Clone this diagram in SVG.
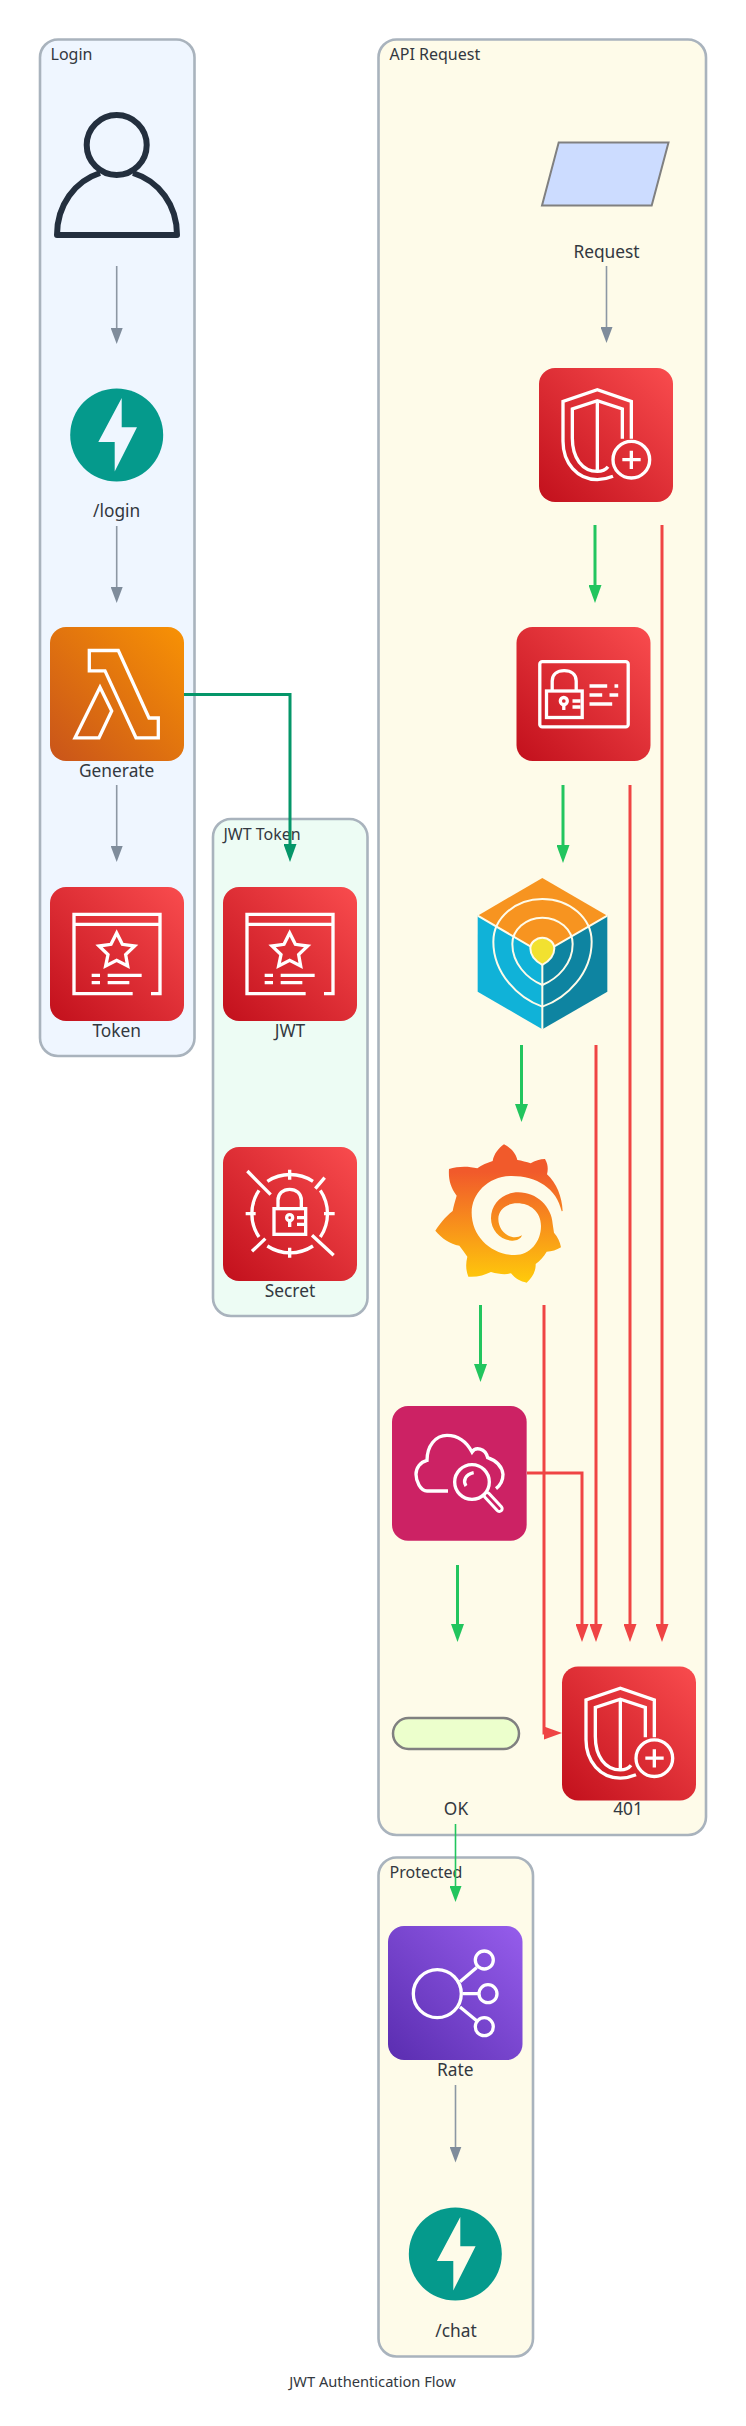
<svg xmlns="http://www.w3.org/2000/svg" width="746" height="2426" viewBox="0 0 746 2426">
<style>
text{font-family:"Noto Sans","Open Sans","Liberation Sans",sans-serif;font-size:16px;fill:#333840}
.lab{text-anchor:middle;font-size:17.33px}
.ttl{font-size:14.67px;text-anchor:middle}
.cl{stroke:#a9b3bd;stroke-width:2.6}
.ic{fill:none;stroke:#fff;stroke-width:3.3}
.ix{fill:none;stroke:#fff;stroke-width:10}
.tile{stroke:none}
.g{fill:none;stroke:#8c97a3;stroke-width:1.6;marker-end:url(#mG)}
.v{fill:none;stroke:#22c55e;stroke-width:3;marker-end:url(#mV)}
.r{fill:none;stroke:#ef4444;stroke-width:3;marker-end:url(#mR)}
.t{fill:none;stroke:#059669;stroke-width:3;marker-end:url(#mT)}
.o{fill:none;stroke:#22c55e;stroke-width:1.6;marker-end:url(#mV2)}
</style>
<defs>
<linearGradient id="gRed" x1="0" y1="1" x2="1" y2="0"><stop offset="0" stop-color="#c2101c"/><stop offset="1" stop-color="#f94c4e"/></linearGradient>
<linearGradient id="gOr" x1="0" y1="1" x2="1" y2="0"><stop offset="0" stop-color="#c9541a"/><stop offset="1" stop-color="#f89204"/></linearGradient>
<linearGradient id="gPu" x1="0" y1="1" x2="1" y2="0"><stop offset="0" stop-color="#5a2db0"/><stop offset="1" stop-color="#965dec"/></linearGradient>
<linearGradient id="gGr" x1="0" y1="0" x2="0" y2="1"><stop offset=".2" stop-color="#f15a2b"/><stop offset="1" stop-color="#ffcb0a"/></linearGradient>
<marker id="mG" markerUnits="userSpaceOnUse" viewBox="0 0 16 12" refX="8" refY="6" markerWidth="16" markerHeight="12" orient="auto"><path d="M0,0L16,6L0,12z" fill="#7f8c9b"/></marker>
<marker id="mV" markerUnits="userSpaceOnUse" viewBox="0 0 18 13" refX="8" refY="6.5" markerWidth="18" markerHeight="13" orient="auto"><path d="M0,0L18,6.5L0,13z" fill="#22c55e"/></marker>
<marker id="mV2" markerUnits="userSpaceOnUse" viewBox="0 0 16 12" refX="8" refY="6" markerWidth="16" markerHeight="12" orient="auto"><path d="M0,0L16,6L0,12z" fill="#22c55e"/></marker>
<marker id="mR" markerUnits="userSpaceOnUse" viewBox="0 0 18 13" refX="8" refY="6.5" markerWidth="18" markerHeight="13" orient="auto"><path d="M0,0L18,6.5L0,13z" fill="#ef4444"/></marker>
<marker id="mT" markerUnits="userSpaceOnUse" viewBox="0 0 18 13" refX="8" refY="6.5" markerWidth="18" markerHeight="13" orient="auto"><path d="M0,0L18,6.5L0,13z" fill="#059669"/></marker>
<g id="iStar">
<rect class="tile" width="134" height="134" rx="16" fill="url(#gRed)"/>
<g transform="scale(.33333)">
<path class="ix" d="M248,320H72V82H330V320H303M72,112H330M125,265H150M125,287H150M173,265H275M173,287H238"/>
<path class="ix" d="M200,138L217,172L254,177L227,203L233,237L200,220L167,237L174,203L147,177L183,172Z"/>
</g>
</g>
<g id="iShield">
<rect class="tile" width="134" height="134" rx="16" fill="url(#gRed)"/>
<g transform="scale(.33333)">
<path class="ix" d="M222,325C205,332 190,335 175,335C115,335 72,285 72,220V100L175,65L277,100V212"/>
<path class="ix" d="M207,296C198,308 188,310 175,310C130,310 100,270 100,210V123L175,98L250,123V212M175,98V310"/>
<circle class="ix" cx="277" cy="275" r="55"/>
<path class="ix" d="M250,275H305M277,248V303"/>
</g>
</g>
<circle id="iBolt" r="46.500" fill="#059a8c"/>
<path id="pBolt" d="M5,-37L-18.400,7H-2V36.400L20.300,-7.700H5Z"/>
</defs>

<g id="cluster-login"><rect class="cl" x="40" y="39.500" width="154.500" height="1016.500" rx="18" fill="#eff6ff"/><text x="50.500" y="59.500">Login</text></g>
<g id="cluster-jwt"><rect class="cl" x="213" y="819" width="154.500" height="497" rx="18" fill="#edfcf4"/><text x="223.500" y="840">JWT Token</text></g>
<g id="cluster-api"><rect class="cl" x="378.500" y="39.500" width="327.500" height="1795.500" rx="18" fill="#fefbe9"/><text x="389.500" y="59.500">API Request</text></g>
<g id="cluster-protected"><rect class="cl" x="378.500" y="1857.500" width="154.500" height="499" rx="18" fill="#fefbe9"/><text x="389.500" y="1878">Protected</text></g>

<g id="node-user">
<path d="M100,173C75,181 57,205 57,235H177C177,205 159,181 133,173" fill="none" stroke="#232f3e" stroke-width="6" stroke-linejoin="round"/>
<circle cx="116.700" cy="145" r="30" fill="none" stroke="#232f3e" stroke-width="6"/>
</g>
<g id="node-login"><use href="#iBolt" x="116.700" y="435"/><use href="#pBolt" x="116.700" y="435" fill="#eff6ff"/><text class="lab" x="116.700" y="517">/login</text></g>
<g id="node-generate" transform="translate(50 627)">
<rect class="tile" width="134" height="134" rx="16" fill="url(#gOr)"/>
<path class="ic" d="M39.300,23.500H68.300L99,91H108.300V110.800H86L55,43.800H39.300Z"/>
<path class="ic" d="M50,60.300L61.700,83.900L49,110.800H25Z"/>
<text class="lab" x="66.700" y="150">Generate</text>
</g>
<g id="node-token" transform="translate(50 887)"><use href="#iStar"/><text class="lab" x="66.700" y="150">Token</text></g>
<g id="node-jwt" transform="translate(223 887)"><use href="#iStar"/><text class="lab" x="67" y="150">JWT</text></g>
<g id="node-secret" transform="translate(223 1147)">
<rect class="tile" width="134" height="134" rx="16" fill="url(#gRed)"/>
<g transform="scale(.33333)">
<path class="ix" d="M133,103A125,125 0 0 1 270,103M292,130A125,125 0 0 1 292,270M270,297A125,125 0 0 1 133,297M108,270A125,125 0 0 1 108,130"/>
<path class="ix" d="M200,68V98M200,302V332M68,200H98M303,200H335M73,72L143,143M332,325L267,265M305,92L277,125M87,313L127,275"/>
<rect class="ix" x="153" y="185" width="95" height="77"/>
<path class="ix" d="M165,185V160C165,140 180,127 200,127C220,127 235,140 235,160V185"/>
<circle class="ix" cx="200" cy="212" r="9" stroke-width="8"/>
<path class="ix" d="M200,221V240M222,212H248M222,232H248" stroke-width="8"/>
</g>
<text class="lab" x="67" y="150">Secret</text>
</g>

<g id="node-request"><path d="M558.700,142.500H668.500L651.700,205.500H542Z" fill="#ccdcff" stroke="#808080" stroke-width="2"/><text class="lab" x="606.500" y="257.500">Request</text></g>
<g id="node-waf" transform="translate(539 368)"><use href="#iShield"/></g>
<g id="node-auth" transform="translate(516.500 627)">
<rect class="tile" width="134" height="134" rx="16" fill="url(#gRed)"/>
<rect class="ic" x="23.300" y="34.600" width="88.400" height="65.300" rx="2.500"/>
<rect class="ic" x="30" y="64" width="35.700" height="26.500"/>
<path class="ic" d="M35.700,64V54C35.700,47 41,43.600 47.700,43.600C54.400,43.600 59.700,47 59.700,54V64"/>
<circle class="ic" cx="47.300" cy="74" r="3.500" stroke-width="2.600"/>
<path class="ic" d="M47.300,77.500V83M56,74H64M56,80H64M73,59H90.700M98,59H101.700M73,68H85.700M93,68H101.700M73,77H95.700"/>
</g>
<g id="node-cube" transform="translate(470 870) scale(.33333)">
<path d="M217,24L412,137L217,250L23,137Z" fill="#f79420"/>
<path d="M23,137L217,250V478L23,365Z" fill="#10b2d8"/>
<path d="M412,137L217,250V478L412,365Z" fill="#0e84a1"/>
<g fill="none" stroke="#fefbe9" stroke-width="6">
<path d="M23,137L217,250L412,137M217,250V478"/>
<path d="M217,87C300,87 365,145 365,215C365,310 290,385 217,410C145,385 70,310 70,215C70,145 135,87 217,87Z"/>
<path d="M217,143C268,143 308,180 308,222C308,280 265,325 217,345C170,325 127,280 127,222C127,180 167,143 217,143Z"/>
</g>
<path d="M217,203C235,203 253,218 253,235C253,258 235,275 217,285C199,275 181,258 181,235C181,218 199,203 217,203Z" fill="#f2e130" stroke="#fefbe9" stroke-width="6"/>
</g>
<g id="node-grafana" transform="translate(430 1140) scale(.33333)">
<path fill="url(#gGr)" d="M222,13C240,22 258,38 262,60C275,62 290,66 302,70C315,62 330,57 345,57C354,72 355,88 351,103C380,130 396,170 398,213L395,214C380,145 320,108 245,108C175,108 125,160 125,218C125,290 185,345 255,345C300,345 333,305 333,258C333,215 300,190 262,190C228,190 205,210 205,237C205,268 230,292 255,292C262,292 270,290 276,286C272,298 258,303 245,302C210,300 183,270 183,235C183,190 220,157 265,157C320,157 365,200 368,252L372,278C383,290 390,305 393,322C380,330 365,335 350,335C342,350 330,362 317,372C318,395 305,415 290,428C272,425 255,415 243,400C225,405 205,402 183,396C165,405 140,412 115,410C107,390 107,370 112,350C105,340 95,325 88,317C60,312 35,295 16,272C30,250 45,232 68,213C70,200 75,185 80,167C60,140 55,115 57,87C85,78 115,78 142,85C155,75 172,68 188,63C192,42 205,25 222,13Z"/>
</g>
<g id="node-search" transform="translate(392 1406) scale(.33333)">
<rect class="tile" width="404" height="404" rx="48" fill="#cc2264"/>
<path class="ix" d="M168,255H105C85,255 72,225 72,205C72,185 85,168 105,163C105,120 130,88 165,88C200,88 225,110 240,138C250,122 280,125 287,155C315,165 330,180 333,205C333,225 325,238 312,248"/>
<path d="M285,268L322,308" stroke="#fff" stroke-width="26" stroke-linecap="round"/>
<path d="M285,268L322,308" stroke="#cc2264" stroke-width="8" stroke-linecap="round"/>
<circle cx="240" cy="228" r="52" fill="#cc2264" stroke="#fff" stroke-width="10"/>
<path class="ix" d="M222,240C212,225 220,205 245,200"/>
</g>
<g id="node-ok"><rect x="393" y="1718" width="126" height="31" rx="15.500" fill="#ecffcc" stroke="#808080" stroke-width="2.500"/><text class="lab" x="456" y="1815">OK</text></g>
<g id="node-401" transform="translate(562 1666.500)"><use href="#iShield"/><text class="lab" x="66" y="148.500">401</text></g>
<g id="node-rate" transform="translate(388 1926)">
<rect class="tile" width="134.500" height="134" rx="16" fill="url(#gPu)"/>
<circle class="ic" cx="49.300" cy="67.700" r="24"/>
<circle class="ic" cx="96.300" cy="34" r="9"/>
<circle class="ic" cx="100" cy="67.700" r="9"/>
<circle class="ic" cx="96.300" cy="100.700" r="9"/>
<path class="ic" d="M72,55.700L88.700,41.500M74.700,67.700H90M72,80.900L88.700,94.700"/>
<text class="lab" x="67.300" y="150">Rate</text>
</g>
<g id="node-chat"><use href="#iBolt" x="455.300" y="2254"/><use href="#pBolt" x="455.300" y="2254" fill="#fefbe9"/><text class="lab" x="456" y="2337">/chat</text></g>

<g id="connectors">
<path class="g" d="M116.700,266V336"/>
<path class="g" d="M116.700,526V595"/>
<path class="g" d="M116.700,785V854"/>
<path class="t" d="M184,694.500H290V852"/>
<path class="g" d="M606.500,266V335"/>
<path class="v" d="M595,525V593"/>
<path class="v" d="M563,785V853"/>
<path class="v" d="M521.500,1045V1112"/>
<path class="v" d="M480.500,1305V1372"/>
<path class="v" d="M457.500,1565V1632"/>
<path class="o" d="M455.500,1824V1894"/>
<path class="g" d="M455.500,2085V2154.500"/>
<path class="r" d="M662,525V1632"/>
<path class="r" d="M630,785V1632"/>
<path class="r" d="M596,1045V1632"/>
<path class="r" d="M544,1305V1733H552"/>
<path class="r" d="M527,1473H582V1632"/>
</g>
<g id="title"><text class="ttl" x="372.500" y="2387">JWT Authentication Flow</text></g>
</svg>
